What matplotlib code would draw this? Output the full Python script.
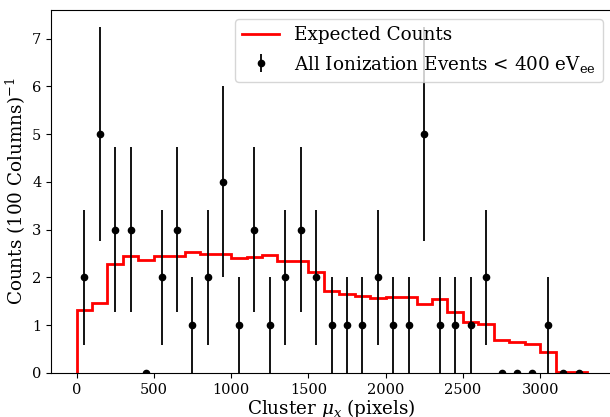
import numpy as np
import matplotlib
matplotlib.use("Agg")
import matplotlib.pyplot as plt

plt.rcParams['font.family'] = 'DejaVu Serif'
plt.rcParams['mathtext.fontset'] = 'dejavuserif'

# Column bins (pixels), 100 columns per bin
bin_edges = np.arange(0, 3301, 100)
bin_centers = bin_edges[:-1] + 50

# Observed ionization events per bin
observed = [2, 5, 3, 3, 0, 2, 3, 1, 2, 4, 1, 3, 1, 2, 3, 2, 1,
            1, 1, 2, 1, 1, 5, 1, 1, 1, 2, 0, 0, 0, 1, 0, 0]

# Expected counts per bin
expected = [1.31, 1.47, 2.28, 2.45, 2.37, 2.45, 2.44, 2.54, 2.49, 2.49,
            2.40, 2.43, 2.47, 2.35, 2.35, 2.12, 1.72, 1.65, 1.61, 1.57,
            1.59, 1.60, 1.45, 1.55, 1.28, 1.06, 1.03, 0.69, 0.64, 0.60,
            0.45, 0.02, 0.02]

obs = np.array(observed, dtype=float)
err = np.sqrt(obs)
err[obs == 0] = np.nan

fig = plt.figure(figsize=(6.10, 4.17), dpi=100)
ax = fig.add_axes([51 / 610, 44 / 417, 561 / 610, 363 / 417])

ax.stairs(expected, bin_edges, color='red', lw=2, label='Expected Counts')
ax.errorbar(bin_centers, obs, yerr=err, fmt='o', color='black', ms=4.5,
            elinewidth=1.3, label=r'All Ionization Events < 400 eV$_{\rm ee}$')

ax.set_xlim(-165, 3465)
ax.set_ylim(0, 7.6)
ax.set_xticks([0, 500, 1000, 1500, 2000, 2500, 3000])
ax.tick_params(labelsize=10.5)
ax.set_xlabel(r'Cluster $\mu_x$ (pixels)', fontsize=13.2, labelpad=0.5)
ax.set_ylabel(r'Counts (100 Columns)$^{-1}$', fontsize=13.2, labelpad=3)
ax.legend(loc='upper right', fontsize=13.2)

fig.savefig('out.png', dpi=100)
